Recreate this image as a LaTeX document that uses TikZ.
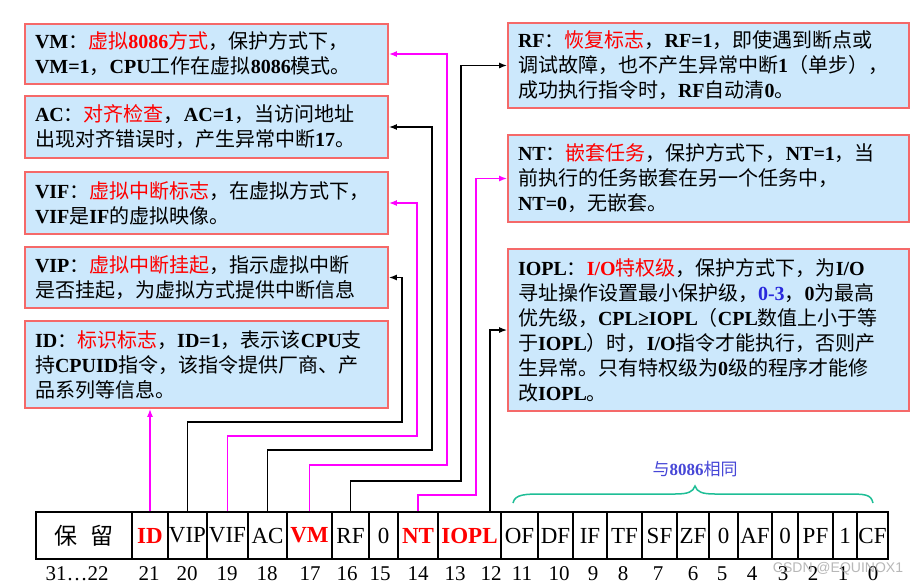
\documentclass[tikz,border=0pt]{standalone}
\usepackage{fontspec}
\setmainfont{Liberation Serif}
\newfontfamily\cjkfam{Noto Sans CJK SC}
\newfontfamily\wmfont{Liberation Sans}
\usetikzlibrary{arrows.meta}
\newcommand\cjkfont{\cjkfam\mdseries}
\newcommand\latb{\normalfont\bfseries}
\XeTeXinterchartokenstate=1
\newXeTeXintercharclass\CJKcls
\makeatletter
\count@="3000 \loop \XeTeXcharclass\count@=\CJKcls \advance\count@ by 1 \ifnum\count@<"3040 \repeat
\count@="4E00 \loop \XeTeXcharclass\count@=\CJKcls \advance\count@ by 1 \ifnum\count@<"A000 \repeat
\count@="FF00 \loop \XeTeXcharclass\count@=\CJKcls \advance\count@ by 1 \ifnum\count@<"FFF0 \repeat
\XeTeXinterchartoks 0 \CJKcls = {\cjkfont}
\XeTeXinterchartoks \CJKcls 0 = {\latb}
\XeTeXinterchartoks 4095 \CJKcls = {\cjkfont}
\XeTeXinterchartoks \CJKcls 4095 = {\latb}
\makeatother
\definecolor{boxfill}{RGB}{204,232,252}
\definecolor{boxline}{RGB}{245,105,105}
\definecolor{mag}{RGB}{255,0,255}
\definecolor{bracecol}{RGB}{30,190,150}
\definecolor{labelblue}{RGB}{70,70,215}
\definecolor{numblue}{RGB}{40,40,220}
\begin{document}
\begin{tikzpicture}[x=1pt,y=-1pt,
 infobox/.style={draw=boxline, line width=1.8pt, fill=boxfill, inner xsep=10pt, inner ysep=2pt, align=left, font=\fontsize{20}{25}\selectfont\bfseries, anchor=center},
 leftbox/.style={infobox, text width=343pt},
 rightbox/.style={infobox, text width=381pt},
 cell/.style={draw, line width=1.2pt, inner sep=0pt, minimum height=47pt, font=\fontsize{23}{25}\selectfont},
 flagred/.style={cell, text=red, font=\fontsize{23}{25}\selectfont\bfseries},
 bitno/.style={font=\fontsize{21}{24}\selectfont, inner sep=0pt},
 blk/.style={draw=black, line width=1.3pt, -{Latex[length=8pt,width=6pt]}},
 pnk/.style={draw=mag, line width=1.5pt, -{Latex[length=8pt,width=6pt]}},
]
\useasboundingbox[fill=white] (0,0) rectangle (913,587);

% left boxes
\node[leftbox, minimum height=60pt] (vm) at (206.5,54) {VM：\textcolor{red}{虚拟8086方式}，保护方式下，\\VM=1，CPU工作在虚拟8086模式。};
\node[leftbox, minimum height=62pt] (ac) at (206.5,127) {AC：\textcolor{red}{对齐检查}，AC=1，当访问地址\\出现对齐错误时，产生异常中断17。};
\node[leftbox, minimum height=62pt] (vif) at (206.5,203) {VIF：\textcolor{red}{虚拟中断标志}，在虚拟方式下，\\VIF是IF的虚拟映像。};
\node[leftbox, minimum height=61pt] (vip) at (206.5,277.5) {VIP：\textcolor{red}{虚拟中断挂起}，指示虚拟中断\\是否挂起，为虚拟方式提供中断信息};
\node[leftbox, minimum height=87pt] (id) at (206.5,364.5) {ID：\textcolor{red}{标识标志}，ID=1，表示该CPU支\\持CPUID指令，该指令提供厂商、产\\品系列等信息。};

% right boxes
\node[rightbox, minimum height=85pt] (rf) at (708.5,65.5) {RF：\textcolor{red}{恢复标志}，RF=1，即使遇到断点或\\调试故障，也不产生异常中断1（单步），\\成功执行指令时，RF自动清0。};
\node[rightbox, minimum height=87pt] (nt) at (708.5,178.5) {NT：\textcolor{red}{嵌套任务}，保护方式下，NT=1，当\\前执行的任务嵌套在另一个任务中，\\NT=0，无嵌套。};
\node[rightbox, minimum height=162pt] (iopl) at (708.5,330) {IOPL：\textcolor{red}{I/O特权级}，保护方式下，为I/O\\寻址操作设置最小保护级，\textcolor{numblue}{0-3}，0为最高\\优先级，CPL≥IOPL（CPL数值上小于等\\于IOPL）时，I/O指令才能执行，否则产\\生异常。只有特权级为0级的程序才能修\\改IOPL。};

% register cells
\node[cell, minimum width=96pt] (c31) at (84,535.5) {保\hspace{14pt}留};
\node[flagred, minimum width=36pt] (c21) at (150,535.5) {ID};
\node[cell, minimum width=39pt] (c20) at (187.5,535.5) {VIP};
\node[cell, minimum width=41pt] (c19) at (227.5,535.5) {VIF};
\node[cell, minimum width=39pt] (c18) at (267.5,535.5) {AC};
\node[flagred, minimum width=45pt] (c17) at (309.5,535.5) {VM};
\node[cell, minimum width=37pt] (c16) at (350.5,535.5) {RF};
\node[cell, minimum width=29pt] (c15) at (383.5,535.5) {0};
\node[flagred, minimum width=40pt] (c14) at (418,535.5) {NT};
\node[flagred, minimum width=63pt] (c13) at (469.5,535.5) {IOPL};
\node[cell, minimum width=37pt] (c11) at (519.5,535.5) {OF};
\node[cell, minimum width=35pt] (c10) at (555.5,535.5) {DF};
\node[cell, minimum width=34pt] (c9) at (590,535.5) {IF};
\node[cell, minimum width=35pt] (c8) at (624.5,535.5) {TF};
\node[cell, minimum width=35pt] (c7) at (659.5,535.5) {SF};
\node[cell, minimum width=32pt] (c6) at (693,535.5) {ZF};
\node[cell, minimum width=29pt] (c5) at (723.5,535.5) {0};
\node[cell, minimum width=34pt] (c4) at (755,535.5) {AF};
\node[cell, minimum width=26pt] (c3) at (785,535.5) {0};
\node[cell, minimum width=35pt] (c2) at (815.5,535.5) {PF};
\node[cell, minimum width=24pt] (c1) at (845,535.5) {1};
\node[cell, minimum width=31pt] (c0) at (872.5,535.5) {CF};

% bit numbers
\node[bitno] (n31) at (77,574) {31…22};
\node[bitno] (n21) at (149,574) {21};
\node[bitno] (n20) at (187,574) {20};
\node[bitno] (n19) at (227,574) {19};
\node[bitno] (n18) at (267,574) {18};
\node[bitno] (n17) at (310,574) {17};
\node[bitno] (n16) at (347,574) {16};
\node[bitno] (n15) at (380,574) {15};
\node[bitno] (n14) at (418,574) {14};
\node[bitno] (n13) at (455,574) {13};
\node[bitno] (n12) at (491,574) {12};
\node[bitno] (n11) at (522,574) {11};
\node[bitno] (n10) at (559,574) {10};
\node[bitno] (n9) at (593,574) {9};
\node[bitno] (n8) at (623,574) {8};
\node[bitno] (n7) at (658,574) {7};
\node[bitno] (n6) at (693,574) {6};
\node[bitno] (n5) at (722,574) {5};
\node[bitno] (n4) at (752,574) {4};
\node[bitno] (n3) at (783,574) {3};
\node[bitno] (n2) at (813,574) {2};
\node[bitno] (n1) at (843,574) {1};
\node[bitno] (n0) at (873,574) {0};

% connectors
\draw[pnk] (c21.north) -- (c21.north |- id.south);
\draw[blk] (c20.north) |- (402,422) |- (vip.east);
\draw[pnk] (c19.north) |- (417,436) |- (vif.east);
\draw[blk] (c18.north) |- (432,450) |- (ac.east);
\draw[pnk] (c17.north) |- (447,465) |- (vm.east);
\draw[blk] (c16.north) |- (461,481) |- (rf.west);
\draw[pnk] (c14.north) |- (476,495) |- (nt.west);
\draw[blk] ([xshift=20.5pt]c13.north) |- (iopl.west);

% brace and label
\draw[bracecol, line width=1.5pt] (513,503) .. controls (515,494) and (525,494) .. (545,494) -- (675,494) .. controls (688,494) and (693,492) .. (695,486) .. controls (697,492) and (702,494) .. (715,494) -- (845,494) .. controls (865,494) and (871,494) .. (873,503);
\node[text=labelblue, font=\fontsize{17}{20}\selectfont\bfseries, inner sep=0pt] (same) at (695,469) {与8086相同};

% watermark
\node[text=gray!70, opacity=0.8, font=\wmfont\fontsize{14}{16}\selectfont, inner sep=0pt] (wm) at (838,569) {CSDN @EQUINOX1};
\end{tikzpicture}
\end{document}
